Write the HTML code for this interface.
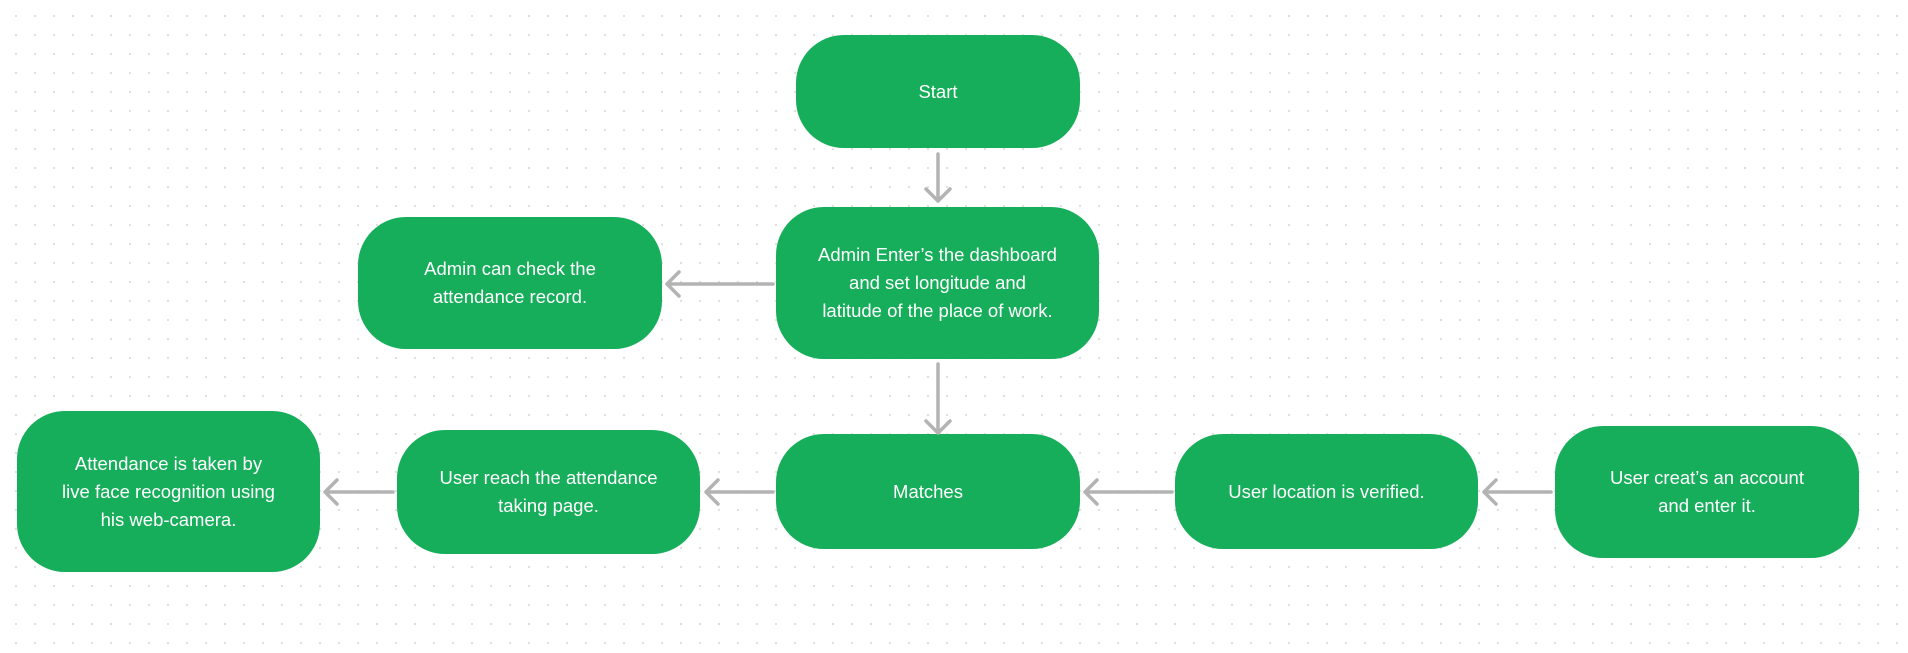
<!DOCTYPE html>
<html><head><meta charset="utf-8"><style>
html,body{margin:0;padding:0}
body{width:1908px;height:653px;position:relative;overflow:hidden;background:#fff;
background-image:radial-gradient(circle,#dedede 1px,transparent 1.3px);background-size:19px 19px;background-position:6.5px 6.5px;
font-family:"Liberation Sans",sans-serif}
.b{position:absolute;background:#17ae5b;border-radius:48px;color:#fff;display:flex;align-items:center;justify-content:center;text-align:center;font-size:18.5px;line-height:28px}
svg{position:absolute;left:0;top:0}
</style></head><body>
<div class="b" style="left:796px;top:35px;width:284px;height:113px">Start</div>
<div class="b" style="left:776px;top:207px;width:323px;height:152px">Admin Enter’s the dashboard<br>and set longitude and<br>latitude of the place of work.</div>
<div class="b" style="left:358px;top:217px;width:304px;height:132px">Admin can check the<br>attendance record.</div>
<div class="b" style="left:776px;top:434px;width:304px;height:115px">Matches</div>
<div class="b" style="left:1175px;top:434px;width:303px;height:115px">User location is verified.</div>
<div class="b" style="left:1555px;top:426px;width:304px;height:132px">User creat’s an account<br>and enter it.</div>
<div class="b" style="left:397px;top:430px;width:303px;height:124px">User reach the attendance<br>taking page.</div>
<div class="b" style="left:17px;top:411px;width:303px;height:161px">Attendance is taken by<br>live face recognition using<br>his web-camera.</div>
<svg width="1908" height="653" fill="none" stroke="#b3b3b3" stroke-width="3.5" stroke-linecap="round" stroke-linejoin="round">
<path d="M938 154V201M926 189L938 201L950 189"/>
<path d="M938 364V433M926 421L938 433L950 421"/>
<path d="M773 284H667M679 272L667 284L679 296"/>
<path d="M1172 492H1085M1097 480L1085 492L1097 504"/>
<path d="M1551 492H1484M1496 480L1484 492L1496 504"/>
<path d="M773 492H706M718 480L706 492L718 504"/>
<path d="M393 492H325M337 480L325 492L337 504"/>
</svg>
</body></html>
